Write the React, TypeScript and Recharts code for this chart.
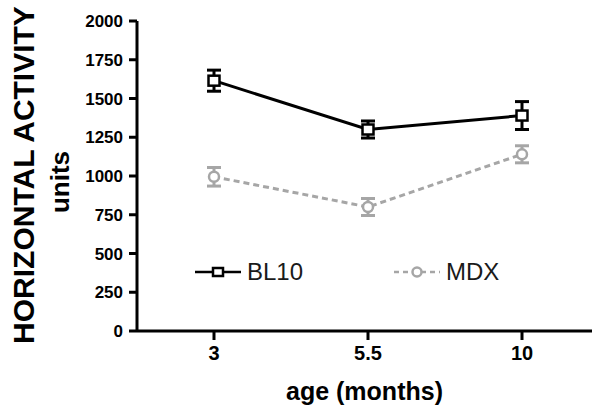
import React from "react";
import {
  LineChart,
  Line,
  XAxis,
  YAxis,
  ErrorBar,
  Legend,
} from "recharts";

const ages = ["3", "5.5", "10"];
const bl10 = [1615, 1300, 1390];
const bl10Err = [68, 55, 90];
const mdx = [995, 800, 1140];
const mdxErr = [60, 55, 55];
const yTicks = [0, 250, 500, 750, 1000, 1250, 1500, 1750, 2000];

const data = ages.map((age, i) => ({
  age,
  bl10: bl10[i],
  bl10Err: bl10Err[i],
  mdx: mdx[i],
  mdxErr: mdxErr[i],
}));

const GRAY = "#a6a6a6";
const FONT = "Arial, 'Liberation Sans', sans-serif";

function SquareDot({ cx, cy }: { cx?: number; cy?: number }) {
  if (cx == null || cy == null) return null;
  return (
    <rect
      x={cx - 5.5}
      y={cy - 5}
      width={11}
      height={10}
      fill="#fff"
      stroke="#000"
      strokeWidth={2.5}
    />
  );
}

function CircleDot({ cx, cy }: { cx?: number; cy?: number }) {
  if (cx == null || cy == null) return null;
  return <circle cx={cx} cy={cy} r={5} fill="#fff" stroke={GRAY} strokeWidth={2.5} />;
}

function LegendBox() {
  const items = [
    { name: "BL10", color: "#000", dash: undefined, square: true },
    { name: "MDX", color: GRAY, dash: "5 4", square: false },
  ];
  return (
    <div style={{ display: "flex", alignItems: "center", fontFamily: FONT }}>
      {items.map((it) => (
        <div
          key={it.name}
          style={{ display: "flex", alignItems: "center", width: 199 }}
        >
          <svg width={48} height={16} style={{ marginRight: 5 }}>
            <line
              x1={1}
              y1={8}
              x2={47}
              y2={8}
              stroke={it.color}
              strokeWidth={2.5}
              strokeDasharray={it.dash}
            />
            {it.square ? (
              <rect x={19} y={4} width={10} height={8} fill="#fff" stroke="#000" strokeWidth={2.5} />
            ) : (
              <circle cx={24} cy={8} r={4.5} fill="#fff" stroke={GRAY} strokeWidth={2.5} />
            )}
          </svg>
          <span style={{ fontSize: 24, color: "#1a1a1a" }}>{it.name}</span>
        </div>
      ))}
    </div>
  );
}

export default function App() {
  return (
    <div
      style={{
        position: "absolute",
        left: 0,
        top: 0,
        width: 592,
        height: 407,
        background: "#fff",
        fontFamily: FONT,
      }}
    >
      <LineChart
        width={592}
        height={407}
        data={data}
        margin={{ top: 21, right: 0, bottom: 0, left: 0 }}
        style={{ fontFamily: FONT }}
      >
        <XAxis
          dataKey="age"
          height={76}
          padding={{ left: 77, right: 70 }}
          axisLine={{ stroke: "#000", strokeWidth: 3 }}
          tickLine={{ stroke: "#000", strokeWidth: 3 }}
          tickSize={9}
          tickMargin={6}
          tick={{ fontSize: 20, fontWeight: "bold", fill: "#000" }}
          label={{
            value: "age (months)",
            position: "insideBottom",
            offset: 7,
            style: { fontSize: 25, fontWeight: "bold", fill: "#000" },
          }}
        />
        <YAxis
          width={137}
          domain={[0, 2000]}
          ticks={yTicks}
          interval={0}
          axisLine={{ stroke: "#000", strokeWidth: 3 }}
          tickLine={{ stroke: "#000", strokeWidth: 3 }}
          tickSize={8}
          tickMargin={6}
          tick={{ fontSize: 17, fontWeight: "bold", fill: "#000" }}
        />
        <Legend
          layout="horizontal"
          verticalAlign="middle"
          align="center"
          content={() => <LegendBox />}
          wrapperStyle={{ top: 258, left: 194, width: 400 }}
        />
        <Line
          dataKey="mdx"
          stroke={GRAY}
          strokeWidth={3}
          strokeDasharray="6 4"
          dot={<CircleDot />}
          activeDot={false}
          isAnimationActive={false}
        >
          <ErrorBar dataKey="mdxErr" width={7} stroke={GRAY} strokeWidth={3} direction="y" />
        </Line>
        <Line
          dataKey="bl10"
          stroke="#000"
          strokeWidth={3}
          dot={<SquareDot />}
          activeDot={false}
          isAnimationActive={false}
        >
          <ErrorBar dataKey="bl10Err" width={7} stroke="#000" strokeWidth={3} direction="y" />
        </Line>
      </LineChart>
      <div
        style={{
          position: "absolute",
          left: 24,
          top: 175,
          transform: "translate(-50%, -50%) rotate(-90deg)",
          whiteSpace: "nowrap",
          fontSize: 30,
          fontWeight: "bold",
          color: "#000",
        }}
      >
        HORIZONTAL ACTIVITY
      </div>
      <div
        style={{
          position: "absolute",
          left: 60,
          top: 182,
          transform: "translate(-50%, -50%) rotate(-90deg)",
          whiteSpace: "nowrap",
          fontSize: 26,
          fontWeight: "bold",
          color: "#000",
        }}
      >
        units
      </div>
    </div>
  );
}
